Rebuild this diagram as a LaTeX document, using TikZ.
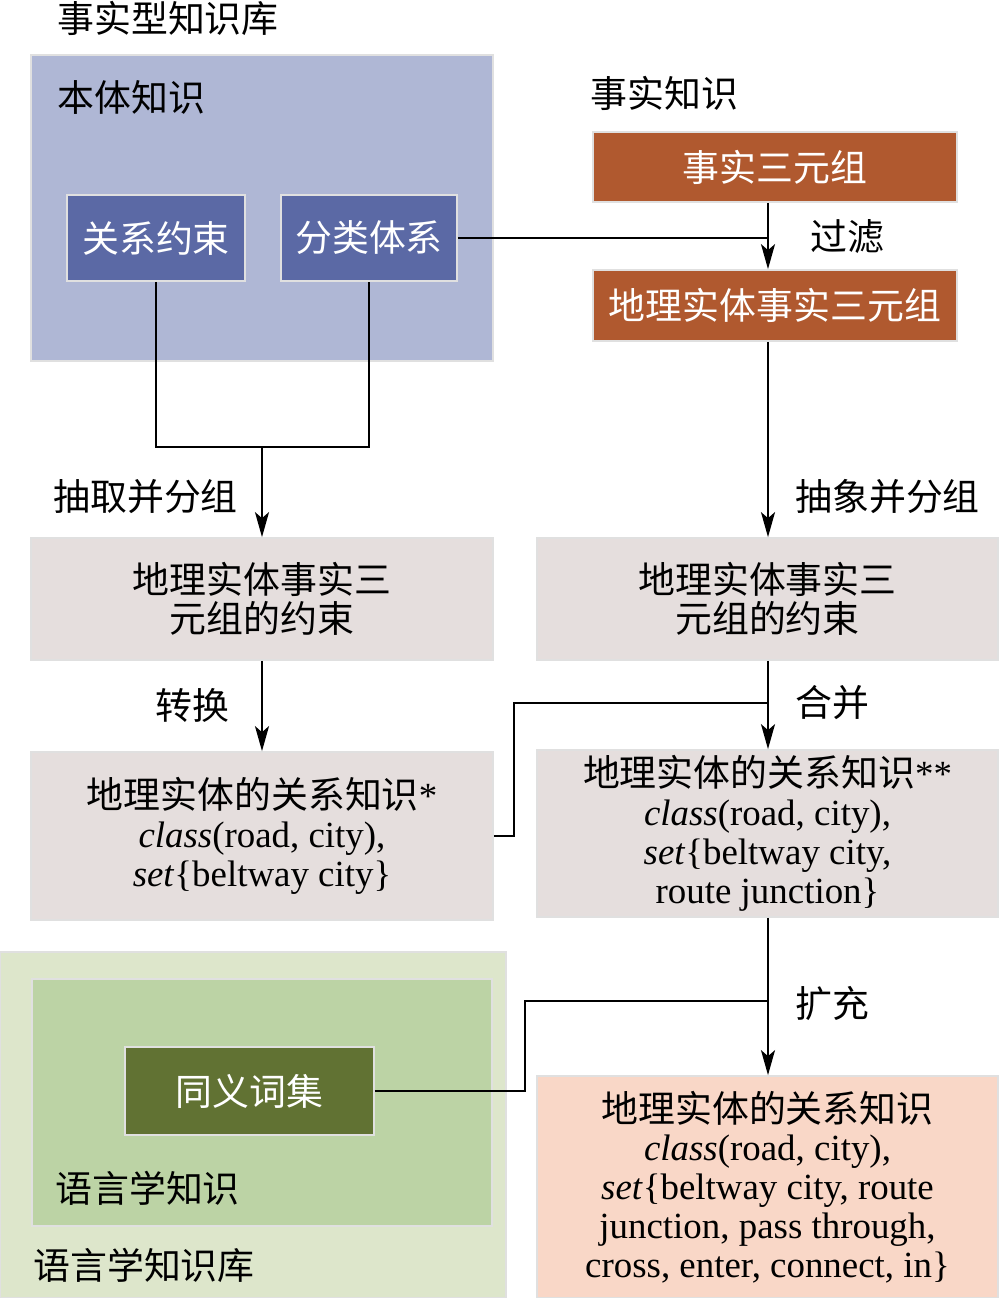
\documentclass[tikz,border=0pt]{standalone}
\usepackage{fontspec}
\setmainfont{Liberation Serif}
\newfontfamily\cjk{Noto Sans CJK SC}
\usetikzlibrary{shapes,positioning,arrows.meta}
\definecolor{ontobg}{HTML}{AFB7D5}
\definecolor{ontobox}{HTML}{5B69A5}
\definecolor{factbox}{HTML}{B0592F}
\definecolor{consbg}{HTML}{E5DEDD}
\definecolor{lingbg}{HTML}{DDE6CB}
\definecolor{lingin}{HTML}{BCD3A5}
\definecolor{synbox}{HTML}{617233}
\definecolor{finalbg}{HTML}{F9D7C7}
\tikzstyle{every node}=[inner sep=0pt]
\tikzstyle{panel}=[draw=black!12,line width=1pt,rectangle]
\tikzstyle{white box}=[panel,text=white]
\tikzstyle{label}=[anchor=west]
\tikzstyle{link}=[line width=1.2pt]
\tikzstyle{arr}=[link,-{Stealth[length=0.5cm,width=0.28cm,inset=0.12cm]}]

\begin{document}
\begin{tikzpicture}[x=0.02cm,y=-0.02cm,font=\fontsize{21}{22.1}\selectfont]
  \useasboundingbox (0,0) rectangle (1000,1298);
  \node [panel,fill=ontobg,minimum width=9.24cm,minimum height=6.12cm] (onto) at (262,208) {};
  \node [label] (kb) at (57,18) {\cjk 事实型知识库};
  \node [label] (ontolabel) at (57,97) {\cjk 本体知识};
  \node [white box,fill=ontobox,minimum width=3.56cm,minimum height=1.72cm] (rel) at (156,238) {\cjk 关系约束};
  \node [white box,fill=ontobox,minimum width=3.52cm,minimum height=1.72cm] (cls) at (369,238) {\cjk 分类体系};
  \node [label] (factlabel) at (590,93) {\cjk 事实知识};
  \node [white box,fill=factbox,minimum width=7.28cm,minimum height=1.4cm] (fact) at (775,167) {\cjk 事实三元组};
  \node [white box,fill=factbox,minimum width=7.28cm,minimum height=1.42cm] (geo) at (775,305.5) {\cjk 地理实体事实三元组};
  \node [panel,fill=consbg,minimum width=9.24cm,minimum height=2.44cm,align=center] (consL) at (262,599)
    {\cjk 地理实体事实三\\\cjk 元组的约束};
  \node [panel,fill=consbg,minimum width=9.22cm,minimum height=2.44cm,align=center] (consR) at (767.5,599)
    {\cjk 地理实体事实三\\\cjk 元组的约束};
  \node [panel,fill=consbg,minimum width=9.24cm,minimum height=3.36cm,align=center] (knowL) at (262,836)
    {{\cjk 地理实体的关系知识}*\\\textit{class}(road, city),\\\textit{set}\{beltway city\}};
  \node [panel,fill=consbg,minimum width=9.22cm,minimum height=3.34cm,align=center] (knowR) at (767.5,833.5)
    {{\cjk 地理实体的关系知识}**\\\textit{class}(road, city),\\\textit{set}\{beltway city,\\route junction\}};
  \node [panel,fill=lingbg,minimum width=10.12cm,minimum height=6.92cm] (ling) at (253,1125) {};
  \node [panel,fill=lingin,minimum width=9.2cm,minimum height=4.94cm] (lingk) at (262,1102.5) {};
  \node [white box,fill=synbox,minimum width=4.98cm,minimum height=1.76cm] (syn) at (249.5,1091) {\cjk 同义词集};
  \node [label] (linglabel) at (55,1188) {\cjk 语言学知识};
  \node [label] (lingkb) at (33,1265) {\cjk 语言学知识库};
  \node [panel,fill=finalbg,minimum width=9.22cm,minimum height=4.44cm,align=center] (final) at (767.5,1187)
    {{\cjk 地理实体的关系知识}\\\textit{class}(road, city),\\\textit{set}\{beltway city, route\\junction, pass through,\\cross, enter, connect, in\}};
  \coordinate (rc) at (768,0);
  \coordinate (jn) at (262,447);
  \coordinate (mrg) at (768,703);
  \coordinate (ext) at (768,1001);
  \draw [arr] (fact.south -| rc) -- (geo.north -| rc);
  \draw [link] (cls.east) -- (cls.east -| rc);
  \node [label] (filter) at (810,237) {\cjk 过滤};
  \draw [link] (rel.south) -- (rel.south |- jn) -- (cls.south |- jn) -- (cls.south);
  \draw [arr] (jn) -- (consL.north);
  \node [label] (extract) at (53,497) {\cjk 抽取并分组};
  \draw [arr] (geo.south -| rc) -- (consR.north -| rc);
  \node [label] (abstract) at (795,497) {\cjk 抽象并分组};
  \draw [arr] (consL.south) -- (knowL.north);
  \node [label] (convert) at (155,705) {\cjk 转换};
  \draw [arr] (consR.south -| rc) -- (knowR.north -| rc);
  \draw [link] (knowL.east) -- ++(20,0) |- (mrg);
  \node [label] (merge) at (795,703) {\cjk 合并};
  \draw [arr] (knowR.south -| rc) -- (final.north -| rc);
  \draw [link] (syn.east) -- ++(150,0) |- (ext);
  \node [label] (expand) at (795,1003) {\cjk 扩充};
\end{tikzpicture}
\end{document}
